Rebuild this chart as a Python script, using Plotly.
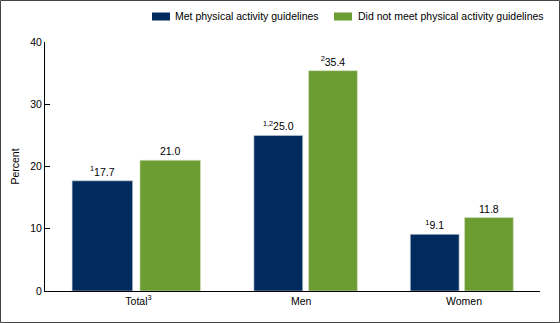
import plotly.graph_objects as go

# Data
categories = ["Total<sup>3</sup>", "Men", "Women"]
met_values = [17.7, 25.0, 9.1]
not_met_values = [21.0, 35.4, 11.8]
met_labels = ["<sup>1</sup>17.7", "<sup>1,2</sup>25.0", "<sup>1</sup>9.1"]
not_met_labels = ["21.0", "<sup>2</sup>35.4", "11.8"]
series_names = ["Met physical activity guidelines",
                "Did not meet physical activity guidelines"]
y_ticks = [0, 10, 20, 30, 40]

# Bar geometry (category units)
bar_width = [0.372, 0.30, 0.30]
pair_gap = [0.045, 0.036, 0.033]
pair_shift = [-0.0135, 0.027, -0.0135]

BLUE = "#002B5C"
GREEN = "#6B9D33"
COLORS = [BLUE, GREEN]
FONT = "Liberation Sans, Arial, sans-serif"
FS = 10.5

met_offset = [s - g / 2 - w for s, g, w in zip(pair_shift, pair_gap, bar_width)]
not_met_offset = [s + g / 2 for s, g in zip(pair_shift, pair_gap)]

fig = go.Figure()
fig.add_trace(go.Bar(
    x=categories, y=met_values, name=series_names[0],
    width=bar_width, offset=met_offset,
    marker=dict(color=BLUE, line=dict(color="#c9d3de", width=0.6)),
    text=met_labels, textposition="outside", cliponaxis=False,
    textfont=dict(family=FONT, size=FS, color="#000000"),
    showlegend=False,
))
fig.add_trace(go.Bar(
    x=categories, y=not_met_values, name=series_names[1],
    width=bar_width, offset=not_met_offset,
    marker=dict(color=GREEN, line=dict(color="#d6e3c4", width=0.6)),
    text=not_met_labels, textposition="outside", cliponaxis=False,
    textfont=dict(family=FONT, size=FS, color="#000000"),
    showlegend=False,
))

# Page layout in pixels
W, H = 560, 323
L, R, T, B = 45, 20, 4, 32
plot_top = 42
pw, ph = W - L - R, H - T - B


def px_x(p):
    return (p - L) / pw


def px_y(p):
    return (H - B - p) / ph


# Legend row: swatch + label for each series
legend_items = [(152, 174), (334, 357)]
legend_y = 16.5
shapes = []
annotations = []
for (sx, tx), name, col in zip(legend_items, series_names, COLORS):
    shapes.append(dict(
        type="rect", xref="paper", yref="paper",
        x0=px_x(sx), x1=px_x(sx + 18),
        y0=px_y(legend_y + 4), y1=px_y(legend_y - 4),
        line=dict(width=0), fillcolor=col,
    ))
    annotations.append(dict(
        xref="paper", yref="paper", x=px_x(tx - 1), y=px_y(legend_y),
        xanchor="left", yanchor="middle", showarrow=False, text=name,
        font=dict(family=FONT, size=FS, color="#000000"),
    ))

# Outer frame
shapes.append(dict(
    type="rect", xref="paper", yref="paper",
    x0=px_x(0.5), x1=px_x(W - 0.5),
    y0=px_y(H - 0.5), y1=px_y(0.5),
    line=dict(color="#444444", width=1), fillcolor="rgba(0,0,0,0)",
    layer="below",
))

fig.update_layout(
    width=W, height=H,
    margin=dict(l=L, r=R, t=T, b=B, pad=0, autoexpand=False),
    barmode="overlay",
    plot_bgcolor="white", paper_bgcolor="white",
    font=dict(family=FONT, size=FS, color="#000000"),
    showlegend=False,
    xaxis=dict(
        type="category", range=[-0.5745, 2.467], automargin=False,
        showline=True, linecolor="#000000", linewidth=1,
        ticks="", showgrid=False, zeroline=False,
        tickfont=dict(family=FONT, size=FS, color="#000000"),
        fixedrange=True,
    ),
    yaxis=dict(
        domain=[0, px_y(plot_top)], automargin=False,
        range=[0, 40], tickvals=y_ticks,
        showline=True, linecolor="#000000", linewidth=1,
        ticks="inside", ticklen=5, tickcolor="#000000", tickwidth=1,
        showgrid=False, zeroline=False,
        tickfont=dict(family=FONT, size=FS, color="#000000"),
        title=dict(text="Percent", standoff=8,
                   font=dict(family=FONT, size=FS, color="#000000")),
        fixedrange=True,
    ),
    shapes=shapes,
    annotations=annotations,
)

fig.write_html("out.html")
